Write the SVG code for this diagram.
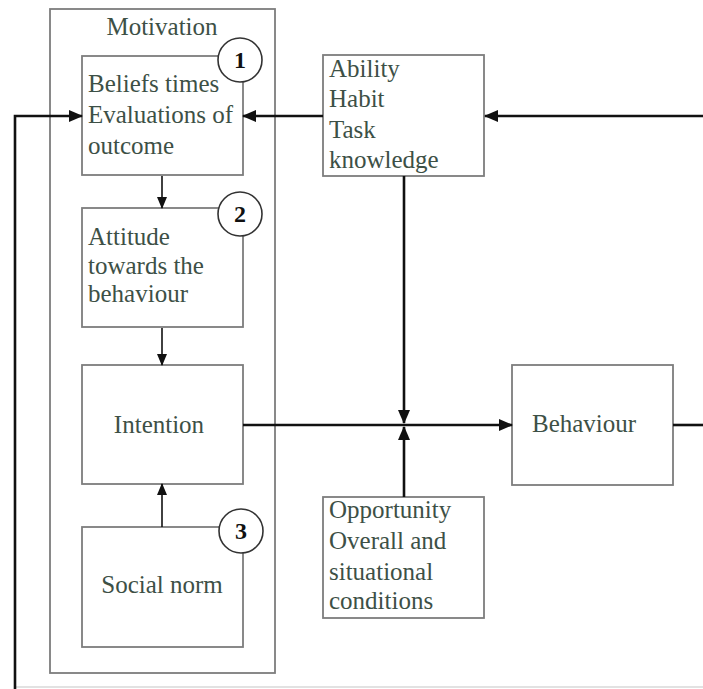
<svg xmlns="http://www.w3.org/2000/svg" width="703" height="689" viewBox="0 0 703 689">
  <style>
    .box { fill: #ffffff; stroke: #7d7d7d; stroke-width: 1.8; }
    .lbl { font-family: 'Liberation Serif', 'DejaVu Serif', serif; font-size: 25px; fill: #3d5046; }
    .num { font-family: 'Liberation Serif', 'DejaVu Serif', serif; font-size: 24px; font-weight: bold; fill: #111111; text-anchor: middle; }
    .badge { fill: #ffffff; stroke: #333333; stroke-width: 1.6; }
    .wire { fill: none; stroke: #111111; stroke-width: 2.6; }
    .thin { fill: none; stroke: #111111; stroke-width: 1.6; }
  </style>
  <defs>
    <marker id="arrow" markerUnits="userSpaceOnUse" markerWidth="14" markerHeight="12" refX="13" refY="6" orient="auto">
      <path d="M0,0 L14,6 L0,12 Z" fill="#111111"/>
    </marker>
    <marker id="arrowSmall" markerUnits="userSpaceOnUse" markerWidth="12" markerHeight="10" refX="11" refY="5" orient="auto">
      <path d="M0,0 L12,5 L0,10 Z" fill="#111111"/>
    </marker>
  </defs>

  <rect width="703" height="689" fill="#ffffff"/>
  <line x1="15" y1="687" x2="703" y2="687" stroke="#d8d8d8" stroke-width="1.5"/>

  <!-- Motivation frame -->
  <g id="motivation">
    <rect class="box" x="50" y="9" width="225" height="664"/>
    <text class="lbl" x="162" y="35" text-anchor="middle">Motivation</text>
  </g>

  <g id="beliefs">
    <rect class="box" x="82" y="56" width="161" height="119"/>
    <text class="lbl"><tspan x="88" y="92">Beliefs times</tspan><tspan x="88" y="123">Evaluations of</tspan><tspan x="88" y="154">outcome</tspan></text>
    <circle class="badge" cx="240" cy="60" r="22"/>
    <text class="num" x="240" y="68">1</text>
  </g>

  <g id="attitude">
    <rect class="box" x="82" y="208" width="161" height="119"/>
    <text class="lbl"><tspan x="88" y="245">Attitude</tspan><tspan x="88" y="273.5">towards the</tspan><tspan x="88" y="302">behaviour</tspan></text>
    <circle class="badge" cx="240" cy="214" r="22"/>
    <text class="num" x="240" y="222">2</text>
  </g>

  <g id="intention">
    <rect class="box" x="82" y="365" width="161" height="119"/>
    <text class="lbl" x="159" y="433" text-anchor="middle">Intention</text>
  </g>

  <g id="social-norm">
    <rect class="box" x="82" y="527" width="161" height="120"/>
    <text class="lbl" x="162" y="593" text-anchor="middle">Social norm</text>
    <circle class="badge" cx="241" cy="531" r="22"/>
    <text class="num" x="241" y="539">3</text>
  </g>

  <g id="ability">
    <rect class="box" x="323" y="55" width="161" height="121"/>
    <text class="lbl"><tspan x="329" y="77">Ability</tspan><tspan x="329" y="107.3">Habit</tspan><tspan x="329" y="137.6">Task</tspan><tspan x="329" y="168">knowledge</tspan></text>
  </g>

  <g id="opportunity">
    <rect class="box" x="323" y="497" width="161" height="121"/>
    <text class="lbl"><tspan x="329" y="518">Opportunity</tspan><tspan x="329" y="548.5">Overall and</tspan><tspan x="329" y="579.5">situational</tspan><tspan x="329" y="609">conditions</tspan></text>
  </g>

  <g id="behaviour">
    <rect class="box" x="512" y="365" width="161" height="120"/>
    <text class="lbl" x="532" y="432">Behaviour</text>
  </g>

  <!-- Connectors -->
  <g id="connectors">
    <line class="thin" x1="162" y1="176" x2="162" y2="208" marker-end="url(#arrowSmall)"/>
    <line class="thin" x1="162" y1="328" x2="162" y2="365" marker-end="url(#arrowSmall)"/>
    <line class="thin" x1="162" y1="527" x2="162" y2="484" marker-end="url(#arrowSmall)"/>
    <polyline class="wire" points="15,689 15,116 82,116" marker-end="url(#arrow)"/>
    <line class="wire" x1="323" y1="116" x2="243" y2="116" marker-end="url(#arrow)"/>
    <line class="wire" x1="703" y1="116" x2="485" y2="116" marker-end="url(#arrow)"/>
    <line class="wire" x1="404" y1="176" x2="404" y2="423" marker-end="url(#arrow)"/>
    <line class="wire" x1="404" y1="497" x2="404" y2="427" marker-end="url(#arrow)"/>
    <line class="wire" x1="243" y1="425" x2="512" y2="425" marker-end="url(#arrow)"/>
    <line class="wire" x1="673" y1="425" x2="703" y2="425"/>
  </g>
</svg>
